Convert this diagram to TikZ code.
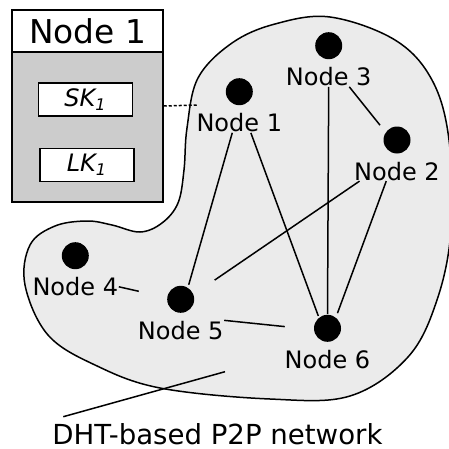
\documentclass[tikz,border=0pt]{standalone}
\usepackage{fontspec}
\setmainfont{DejaVu Sans}
\usepackage{tikz}
\usetikzlibrary{positioning}
\definecolor{hostgray}{gray}{0.8}
\definecolor{netgray}{gray}{0.92}
\newcommand{\lblfont}{\fontsize{12}{14}\selectfont}

\begin{document}
\begin{tikzpicture}[x=0.5pt,y=-0.5pt,line width=0.75pt,
    dot/.style={circle,fill=black,inner sep=0pt,minimum size=13.5pt},
    lbl/.style={inner sep=0pt,font=\lblfont},
    keybox/.style={draw,fill=white,minimum width=47pt,minimum height=16.5pt,inner sep=0pt,font=\lblfont\itshape}]
    \useasboundingbox (0,0) rectangle (449,449);
%    the network
    \draw[fill=netgray] plot[smooth cycle,tension=0.6] coordinates {
        (330,17) (395,40) (432,80) (449,140) (451,230) (437,300) (408,357)
        (350,396) (270,399) (160,388) (95,365) (48,335) (25,285) (30,245)
        (55,226) (87,221) (112,225) (140,232) (162,223) (178,203) (184,170)
        (187,128) (198,78) (232,43) (275,24)};
%    the host and its keys
    \node[draw,fill=hostgray,minimum width=75.5pt,minimum height=96pt,inner sep=0pt] (host) at (87.5,106) {};
    \node[draw,fill=white,minimum width=75.5pt,minimum height=21pt,inner sep=0pt,anchor=north,
        font=\fontsize{16.4}{18}\selectfont] (hosthead) at (host.north) {Node 1};
    \node[keybox] (sk) at (85.5,99.5) {SK\textsubscript{1}};
    \node[keybox] (lk) at (87,165) {LK\textsubscript{1}};
    \coordinate (hostlink) at (197,105);
    \draw[dash pattern=on 1.5pt off 1pt] (host.east) -- (hostlink);
%    peers
    \node[dot] (d1) at (239.3,91.7) {};
    \node[dot] (d2) at (397,140) {};
    \node[dot] (d3) at (328.7,45.7) {};
    \node[dot] (d4) at (75.3,255.7) {};
    \node[dot] (d5) at (180.7,299.3) {};
    \node[dot] (d6) at (327.5,328.3) {};
    \node[lbl,below=3.4pt of d1] (l1) {Node 1};
    \node[lbl,below=3.4pt of d2] (l2) {Node 2};
    \node[lbl,below=3.4pt of d3] (l3) {Node 3};
    \node[lbl,below=3.4pt of d4] (l4) {Node 4};
    \node[lbl,below=3.4pt of d5] (l5) {Node 5};
    \node[lbl,below=3.4pt of d6] (l6) {Node 6};
%    links
    \draw[shorten >=1.2pt] (l1.-125) -- (d5.59);
    \draw[shorten >=0.6pt] (l1.-41) -- (d6.128);
    \draw (l3.south) -- (d6.north);
    \draw[shorten >=4.25pt] (l3.-26) -- (d2.145);
    \draw[shorten >=12.5pt] (l2.-165) -- (d5.21);
    \draw[shorten >=2pt] (l2.-137) -- (d6.53);
    \draw[shorten >=14.25pt] (l4.east) -- (d5.173);
    \draw[shorten >=14.35pt] (l5.north east) -- (d6.185);
%    caption
    \node[inner sep=0pt,font=\fontsize{13.8}{16}\selectfont] (dht) at (217.5,434.5) {DHT-based P2P network};
    \coordinate (dhtfoot) at (63.3,416.7);
    \coordinate (nethead) at (225,371.7);
    \draw (dhtfoot) -- (nethead);
\end{tikzpicture}
\end{document}
